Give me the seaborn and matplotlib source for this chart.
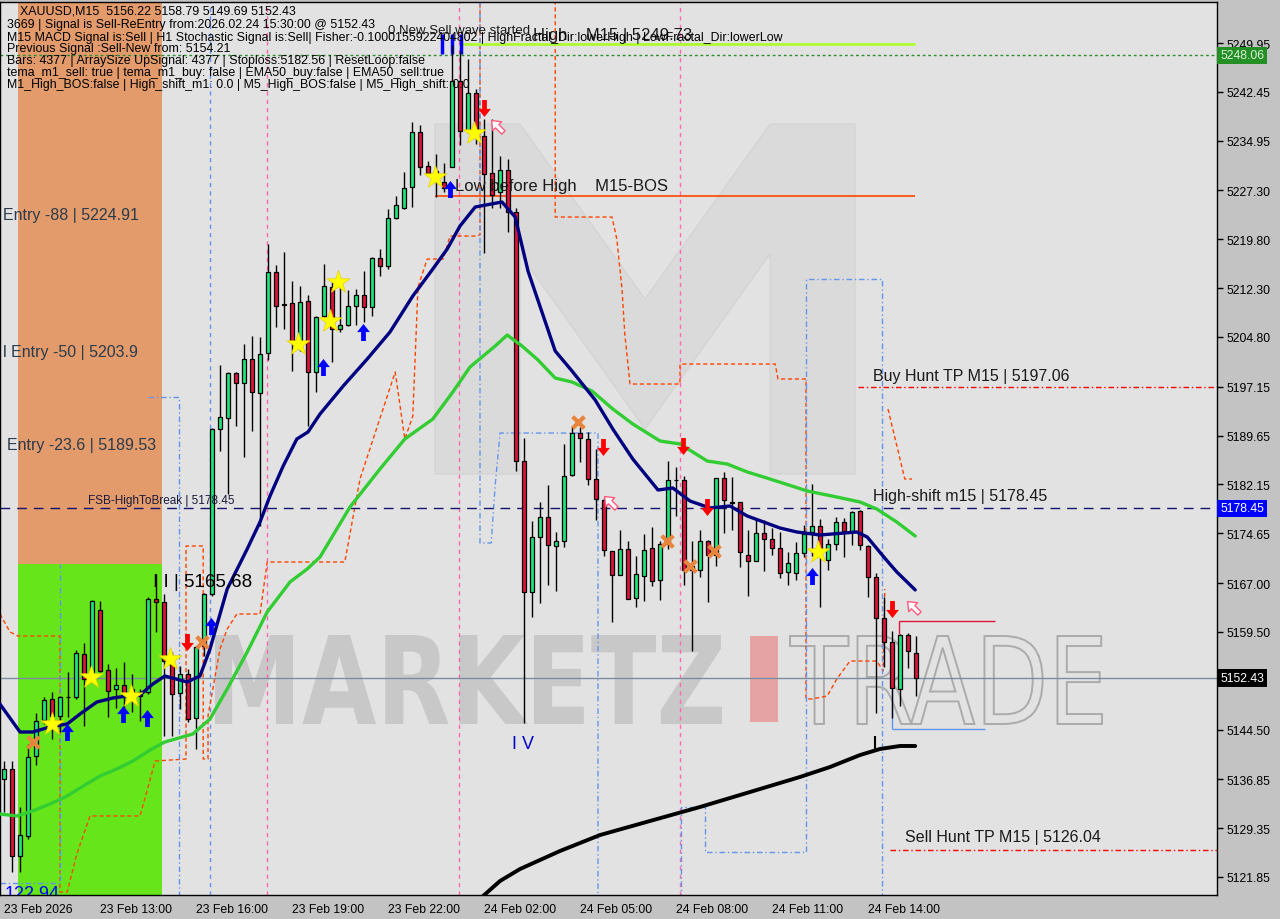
import numpy as np
import pandas as pd
import seaborn as sns
import matplotlib.pyplot as plt
from matplotlib.patches import Rectangle, Polygon, PathPatch
from matplotlib.textpath import TextPath
from matplotlib.font_manager import FontProperties
from matplotlib.transforms import Affine2D, blended_transform_factory
from matplotlib.path import Path

# Bougies XAUUSD M15
opens = [5136.90, 5138.44, 5125.07, 5128.15, 5140.43, 5145.96, 5149.19, 5146.58, 5149.50, 5149.50,
         5156.10, 5153.33, 5162.86, 5153.64, 5150.73, 5151.34, 5150.73, 5149.65, 5150.26, 5164.55,
         5164.09, 5154.87, 5150.11, 5153.03, 5146.27, 5157.33, 5165.32, 5190.66, 5192.35, 5199.26,
         5197.73, 5201.41, 5196.19, 5202.33, 5214.77, 5209.86, 5210.01, 5204.02, 5210.32, 5199.42,
         5208.02, 5212.47, 5206.02, 5206.63, 5209.55, 5211.24, 5209.40, 5216.93, 5215.70, 5223.07,
         5224.61, 5227.83, 5236.28, 5231.06, 5230.29, 5228.60, 5230.90, 5244.11, 5236.59, 5242.27,
         5235.66, 5229.98, 5227.06, 5230.44, 5223.99, 5185.74, 5165.62, 5174.07, 5177.14, 5172.69,
         5173.46, 5183.59, 5190.04, 5189.12, 5182.98, 5179.75, 5171.92, 5168.24, 5172.23, 5164.70,
         5168.08, 5172.38, 5167.47, 5173.00, 5182.83, 5182.83, 5169.62, 5169.00, 5173.46, 5171.31,
         5183.13, 5179.45, 5179.45, 5171.31, 5170.39, 5174.69, 5173.77, 5172.38, 5168.69, 5168.54,
         5171.61, 5174.84, 5175.76, 5170.54, 5173.00, 5176.37, 5174.99, 5178.06, 5172.69, 5167.93,
         5161.63, 5157.94, 5150.73, 5159.02, 5156.22]
highs = [5139.66, 5139.66, 5132.60, 5142.28, 5147.04, 5149.50, 5150.26, 5149.65, 5153.33, 5156.72,
         5157.79, 5164.39, 5164.24, 5154.56, 5153.95, 5154.87, 5153.03, 5150.73, 5164.86, 5168.39,
         5165.32, 5156.41, 5154.26, 5153.79, 5157.33, 5165.47, 5190.81, 5200.49, 5199.42, 5199.42,
         5203.72, 5204.94, 5204.79, 5219.08, 5215.85, 5217.85, 5213.39, 5212.62, 5211.24, 5208.02,
         5216.00, 5213.24, 5213.70, 5212.01, 5212.17, 5214.93, 5217.08, 5218.31, 5224.45, 5226.45,
         5230.13, 5237.82, 5237.35, 5231.83, 5232.90, 5231.52, 5249.72, 5248.72, 5247.49, 5242.88,
         5238.28, 5238.28, 5232.59, 5232.13, 5224.61, 5189.28, 5176.53, 5179.45, 5182.06, 5174.84,
         5188.36, 5191.12, 5190.97, 5190.20, 5187.59, 5180.06, 5171.92, 5175.15, 5173.46, 5171.15,
         5174.53, 5175.61, 5173.46, 5185.74, 5184.82, 5183.44, 5173.46, 5175.15, 5173.61, 5183.13,
         5184.05, 5183.29, 5179.45, 5175.15, 5176.83, 5176.68, 5175.45, 5174.84, 5171.77, 5173.30,
         5175.91, 5182.21, 5176.83, 5173.77, 5177.14, 5176.99, 5178.06, 5178.22, 5172.84, 5168.54,
         5164.86, 5159.63, 5159.17, 5159.33, 5158.79]
lows = [5131.83, 5122.62, 5122.62, 5127.68, 5139.05, 5145.35, 5143.05, 5144.12, 5146.42, 5149.19,
        5145.04, 5152.87, 5153.33, 5146.42, 5147.80, 5147.19, 5147.19, 5145.81, 5149.96, 5159.48,
        5143.51, 5143.51, 5147.65, 5145.66, 5141.51, 5155.79, 5165.01, 5187.28, 5180.68, 5191.12,
        5186.36, 5190.35, 5175.76, 5201.26, 5206.33, 5206.02, 5199.57, 5202.64, 5191.12, 5196.34,
        5207.86, 5200.95, 5205.56, 5206.48, 5206.63, 5207.10, 5208.02, 5214.16, 5215.24, 5222.91,
        5224.45, 5224.76, 5229.67, 5229.52, 5226.30, 5227.06, 5230.83, 5234.28, 5236.12, 5234.44,
        5217.69, 5224.61, 5224.61, 5220.92, 5184.21, 5145.50, 5161.78, 5163.93, 5166.70, 5165.78,
        5172.53, 5183.44, 5185.59, 5182.06, 5176.68, 5171.15, 5161.02, 5168.24, 5164.55, 5163.32,
        5164.24, 5166.55, 5164.39, 5172.23, 5177.30, 5166.70, 5156.56, 5167.93, 5164.09, 5169.62,
        5174.69, 5175.15, 5169.46, 5165.01, 5170.39, 5168.85, 5171.31, 5167.77, 5166.70, 5167.47,
        5171.00, 5171.15, 5163.32, 5169.00, 5172.07, 5171.00, 5172.84, 5172.07, 5164.86, 5147.04,
        5154.10, 5146.27, 5148.11, 5153.95, 5149.69]
closes = [5138.44, 5125.07, 5128.30, 5140.28, 5145.81, 5149.04, 5146.58, 5149.50, 5149.42, 5156.25,
          5152.26, 5164.24, 5153.49, 5150.42, 5151.34, 5149.65, 5149.65, 5150.26, 5164.55, 5164.09,
          5155.02, 5149.96, 5153.03, 5146.12, 5157.17, 5165.32, 5190.66, 5192.50, 5199.26, 5197.73,
          5201.41, 5196.34, 5202.18, 5214.77, 5209.55, 5209.71, 5204.02, 5210.17, 5199.42, 5207.86,
          5212.62, 5206.02, 5206.63, 5209.55, 5211.24, 5209.40, 5216.93, 5215.70, 5223.07, 5225.07,
          5227.68, 5236.28, 5230.90, 5229.98, 5229.37, 5227.68, 5244.11, 5236.43, 5242.27, 5236.59,
          5229.83, 5226.60, 5230.44, 5223.99, 5185.74, 5165.62, 5174.07, 5177.14, 5172.84, 5173.46,
          5183.44, 5190.04, 5189.28, 5182.98, 5179.91, 5172.07, 5168.24, 5172.23, 5164.55, 5168.39,
          5172.07, 5167.32, 5173.00, 5182.83, 5182.75, 5169.00, 5169.00, 5173.46, 5171.31, 5183.13,
          5179.75, 5179.37, 5171.77, 5170.39, 5174.69, 5173.77, 5172.38, 5168.54, 5170.08, 5171.61,
          5174.53, 5175.76, 5171.92, 5173.00, 5176.37, 5174.99, 5177.91, 5172.84, 5167.93, 5161.63,
          5157.94, 5150.88, 5159.02, 5156.56, 5152.43]

time_pos = [0, 12, 24, 36, 48, 60, 72, 84, 96, 108]
time_labels = ["23 Feb 2026", "23 Feb 13:00", "23 Feb 16:00", "23 Feb 19:00", "23 Feb 22:00",
               "24 Feb 02:00", "24 Feb 05:00", "24 Feb 08:00", "24 Feb 11:00", "24 Feb 14:00"]
price_ticks = [5249.95, 5242.45, 5234.95, 5227.30, 5219.80, 5212.30, 5204.80, 5197.15, 5189.65,
               5182.15, 5174.65, 5167.00, 5159.50, 5144.50, 5136.85, 5129.35, 5121.85]

# Moyennes mobiles (points lus)
navy_idx = [-0.5, 2, 3.6, 5.75, 7.9, 9.5, 11.6, 13.6, 15.4, 17, 18.6, 20.1, 22.9, 24.5, 25.75,
            27.9, 30.4, 32, 33.25, 34.9, 36.6, 38, 39.5, 42.4, 45.4, 48.25, 51.1, 53.6, 55.4, 57,
            58.9, 62.25, 63.9, 65.5, 68.9, 71, 73.9, 76.1, 78.6, 81.75, 83.6, 85.75, 88.25, 90.75,
            92.9, 97, 99.1, 102, 106.6, 107.9, 110.4, 111.6, 113.9]
navy_val = [5148.40, 5144.12, 5144.12, 5144.89, 5145.35, 5146.88, 5148.72, 5149.34, 5149.65, 5149.80,
            5151.49, 5152.72, 5151.80, 5152.72, 5156.87, 5166.08, 5172.23, 5176.37, 5180.37, 5184.98,
            5189.12, 5190.20, 5192.96, 5197.26, 5201.41, 5205.56, 5211.09, 5215.23, 5218.31, 5221.84,
            5224.76, 5225.53, 5223.22, 5214.93, 5202.64, 5199.57, 5195.11, 5190.66, 5186.05, 5181.29,
            5181.60, 5179.60, 5178.53, 5178.83, 5177.30, 5175.45, 5174.84, 5174.38, 5174.84, 5174.07,
            5170.39, 5168.70, 5165.94]
green_idx = [-0.5, 1.6, 3.6, 5.75, 7.9, 9.9, 12, 14.1, 16.1, 18.25, 20.1, 23.6, 25.75, 27.9, 30.4,
             32.9, 35.75, 37.9, 39.5, 43.25, 47, 50.1, 53.6, 56.1, 58.25, 61.4, 62.9, 64.75, 66.75,
             68.9, 71, 73.5, 76.1, 78.6, 82, 84.5, 87.9, 90.4, 92.9, 95.75, 100.4, 104.1, 107, 109.1,
             111.6, 113.9]
green_val = [5131.52, 5131.22, 5131.99, 5133.06, 5134.29, 5135.82, 5137.36, 5138.44, 5139.66, 5141.35,
             5142.58, 5143.81, 5146.12, 5150.73, 5156.41, 5162.55, 5167.16, 5169.16, 5171.00, 5178.68,
             5184.52, 5189.12, 5192.19, 5196.34, 5200.18, 5203.41, 5205.10, 5203.41, 5201.26, 5198.49,
             5197.88, 5196.49, 5193.73, 5191.43, 5188.82, 5188.36, 5185.74, 5185.28, 5184.06, 5182.98,
             5181.14, 5180.21, 5179.45, 5178.37, 5176.37, 5174.22]
black_idx = [59.5, 62, 64.5, 69.5, 74.5, 80.75, 87, 93.25, 99.5, 103.25, 107, 109.5, 112, 113.9]
black_val = [5118.50, 5121.23, 5123.07, 5125.84, 5128.29, 5130.45, 5132.60, 5134.90, 5137.21,
             5138.74, 5140.58, 5141.51, 5141.97, 5141.97]

# Canaux en pointillés
orange1_idx = [-0.5, 0.75, 1.75, 7, 7, 7.9, 9.1, 10.75, 17, 18.9, 22.75, 22.75, 24.9, 24.9, 25.5,
               25.5, 27, 27.9, 29.1, 32, 32.9, 42.6, 44.5, 48.9, 50.1, 51.1, 51.75, 52.9, 54.9,
               55.75, 58.9, 59.5, 59.5]
orange1_val = [5162.24, 5159.48, 5158.86, 5158.86, 5119.54, 5119.54, 5125.38, 5131.22, 5131.22,
               5139.66, 5139.97, 5172.69, 5172.69, 5139.97, 5139.97, 5146.58, 5156.87, 5159.94,
               5162.24, 5162.24, 5170.23, 5170.23, 5182.98, 5199.42, 5189.12, 5192.66, 5212.47,
               5216.77, 5216.77, 5220.30, 5220.30, 5220.46, 5256.50]
orange2_idx = [68.9, 68.9, 76, 76.6, 77.25, 77.6, 78.25, 84.5, 84.5, 96.4, 96.75, 100.25, 100.25,
               101, 102.9, 104.1, 105.75, 109.1, 109.9, 110.1]
orange2_val = [5256.50, 5223.22, 5223.22, 5219.84, 5212.17, 5205.25, 5197.57, 5197.57, 5200.64,
               5200.64, 5198.34, 5198.34, 5149.19, 5149.19, 5149.65, 5152.26, 5155.02, 5155.02,
               5153.49, 5166.08]
orange3_idx = [110.5, 111.4, 112.6, 113.5]
orange3_val = [5193.73, 5189.12, 5182.98, 5182.98]
blue1_idx = [-0.5, 7, 7]
blue1_val = [5120.93, 5120.93, 5170.00]
blue2_idx = [18, 21.9, 21.9]
blue2_val = [5195.58, 5195.58, 5118.50]
blue3_idx = [59.5, 59.5, 60.9, 61.4, 62, 74.25, 74.25]
blue3_val = [5256.50, 5173.15, 5173.15, 5182.06, 5190.04, 5190.04, 5118.50]
blue4_idx = [84.6, 84.6, 87.6, 87.6, 100.25, 100.25, 109.75, 109.75]
blue4_val = [5118.50, 5132.60, 5132.60, 5125.69, 5125.69, 5213.70, 5213.70, 5118.50]
pink_vlines = [32.9, 56.9, 84.5]

# Signaux
star_idx = [6, 10.9, 15.9, 20.75, 36.75, 40.75, 41.75, 53.9, 58.75, 101.75]
star_val = [5145.35, 5152.57, 5149.65, 5155.33, 5203.72, 5207.25, 5213.24, 5229.37, 5236.12, 5171.77]
buy_idx = [7.9, 14.9, 17.9, 25.9, 39.9, 44.9, 55.75, 101]
buy_val = [5144.12, 5146.88, 5146.27, 5160.40, 5200.18, 5205.56, 5227.53, 5168.08]
sell_idx = [22.9, 60, 74.9, 84.9, 87.9, 111]
sell_val = [5157.94, 5239.97, 5187.89, 5188.05, 5178.68, 5163.01]
exit_idx = [61.6, 75.75, 113.6]
exit_val = [5237.20, 5179.45, 5163.32]
cross_idx = [3.6, 24.75, 71.75, 82.9, 85.75, 88.75]
cross_val = [5142.58, 5157.94, 5191.73, 5173.46, 5169.62, 5171.92]

# Niveaux
high_m15 = 5249.73
high_lvl = 5248.06
bos_lvl = 5226.45
fsb_lvl = 5178.45
bid = 5152.43
buy_tp = 5197.06
sell_tp = 5126.04
zone_split = 5169.93

W, H = 1280, 920
X0, X1 = -0.5, 151.625
Y0, Y1 = 5119.08, 5256.25

sns.set_theme(style="white")
plt.rcParams["font.family"] = ["Liberation Sans", "DejaVu Sans"]

fig = plt.figure(figsize=(W / 100, H / 100), dpi=100, facecolor="#C3C3C3")
ax = fig.add_axes([0, 1 - 896 / H, 1217 / W, 893 / H])
ax.set_facecolor("#E2E2E2")
ax.set_xlim(X0, X1)
ax.set_ylim(Y0, Y1)


def disp(x, y):
    # pixel de l'image -> coordonnées d'affichage
    return x, H - y


# filigrane
logo = [(435, 475), (435, 125), (520, 125), (645, 300), (770, 125), (855, 125), (855, 475),
        (770, 475), (770, 255), (645, 430), (520, 255), (520, 475)]
ax.add_artist(Polygon([disp(*p) for p in logo], closed=True, transform=Affine2D(),
                      fc="#D6D6D6", ec="#D0D0D0", alpha=0.65, zorder=0.4))


def word(txt, x0, x1, ytop, ybot, weight, **kw):
    tp = TextPath((0, 0), txt, size=100, prop=FontProperties(family="DejaVu Sans", weight=weight))
    e = tp.get_extents()
    tr = (Affine2D().translate(-e.x0, -e.y0)
          .scale((x1 - x0) / e.width, (ybot - ytop) / e.height)
          .translate(x0, H - ybot))
    ax.add_artist(PathPatch(tp, transform=tr, zorder=0.5, **kw))


word("MARKETZ", 215, 722, 636, 725, "bold", fc="#C2C2C2", ec="none", alpha=0.8)
word("TRADE", 790, 1102, 637, 725, "normal", fc="none", ec="#ABABAB", lw=1.4)
ax.add_artist(Rectangle(disp(750, 723), 28, 86, transform=Affine2D(), fc="#E6A3A3",
                        ec="none", zorder=0.5))

# zones entrée
ax.add_patch(Rectangle((1.75, zone_split), 18, Y1 - zone_split, fc="#E39B6B", ec="none", zorder=0.6))
ax.add_patch(Rectangle((1.75, Y0), 18, zone_split - Y0, fc="#66E61A", ec="none", zorder=0.6))

# lignes verticales
for xv in pink_vlines:
    ax.axvline(xv, color="#FF69B4", lw=1, ls=(0, (3, 3)), zorder=1)
ax.axvline(25.75, color="#6495ED", lw=1, ls=(0, (3, 3)), zorder=1)

for xs, ys in [(orange1_idx, orange1_val), (orange2_idx, orange2_val), (orange3_idx, orange3_val)]:
    ax.plot(xs, ys, color="#FF4500", lw=1, ls=(0, (3, 2)), zorder=1.2)
for xs, ys in [(blue1_idx, blue1_val), (blue2_idx, blue2_val), (blue3_idx, blue3_val),
               (blue4_idx, blue4_val)]:
    ax.plot(xs, ys, color="#6495ED", lw=1, ls=(0, (4, 2, 1, 2)), zorder=1.2)

# niveaux horizontaux
ax.axhline(high_lvl, color="#2E8B2E", lw=1, ls=(0, (2, 2)), zorder=1.3)
ax.axhline(fsb_lvl, color="#14146E", lw=1, ls=(0, (7, 5)), zorder=1.3)
ax.axhline(bid, color="#7C8CA0", lw=1, zorder=1.3)
ax.hlines(high_m15, 57, 113.9, color="#ADFF2F", lw=2, zorder=1.4)
ax.hlines(bos_lvl, 53.9, 113.9, color="#FF4500", lw=1.2, zorder=1.4)
ax.hlines(buy_tp, 106.75, X1, color="#FF0000", lw=1, ls=(0, (4, 2, 1, 2)), zorder=1.4)
ax.hlines(sell_tp, 110.75, X1, color="#FF0000", lw=1, ls=(0, (4, 2, 1, 2)), zorder=1.4)
ax.hlines(5161.17, 111.9, 123.9, color="#DC143C", lw=1, zorder=1.4)
ax.vlines(111.9, 5159.2, 5161.17, color="#DC143C", lw=1, zorder=1.4)
ax.hlines(5144.58, 111, 122.6, color="#6495ED", lw=1, zorder=1.4)
ax.vlines(111, 5144.58, 5157.93, color="#6495ED", lw=1, zorder=1.4)
ax.vlines([54.75, 56, 57.1], 5248.26, 5251.33, color="#0000FF", lw=2.5, zorder=1.5)
ax.vlines(108.9, 5141.2, 5143.5, color="black", lw=1.5, zorder=1.5)

# bougies
df = pd.DataFrame({"o": opens, "h": highs, "l": lows, "c": closes})
df["i"] = np.arange(len(df))
up = df["c"] >= df["o"]
ax.vlines(df["i"], df["l"], df["h"], color="black", lw=1, zorder=3)
ax.bar(df["i"], df["c"] - df["o"], bottom=df["o"], width=0.62,
       color=np.where(up, "#1EE67A", "#DC143C"), edgecolor="black", linewidth=0.9, zorder=3.1)

# moyennes mobiles
ma_navy = pd.DataFrame({"i": navy_idx, "p": navy_val})
ma_green = pd.DataFrame({"i": green_idx, "p": green_val})
ma_black = pd.DataFrame({"i": black_idx, "p": black_val})
sns.lineplot(data=ma_green, x="i", y="p", ax=ax, color="#32CD32", lw=2.4, sort=False, estimator=None, zorder=4)
sns.lineplot(data=ma_navy, x="i", y="p", ax=ax, color="#000080", lw=2.4, sort=False, estimator=None, zorder=4.1)
sns.lineplot(data=ma_black, x="i", y="p", ax=ax, color="black", lw=2.8, sort=False, estimator=None, zorder=4.1)

# signaux
arrow = Path([(0, 1), (0.75, 0.05), (0.28, 0.05), (0.28, -1), (-0.28, -1), (-0.28, 0.05),
              (-0.75, 0.05), (0, 1)], closed=True)
arrow_dn = Affine2D().scale(1, -1).transform_path(arrow)
arrow_ul = Affine2D().rotate_deg(45).transform_path(arrow)
ax.scatter(star_idx, star_val, marker="*", s=300, c="#FFFF00", edgecolors="#E8D000", linewidths=0.5, zorder=5)
ax.scatter(buy_idx, buy_val, marker=arrow, s=150, c="#0000FF", linewidths=0, zorder=5)
ax.scatter(sell_idx, sell_val, marker=arrow_dn, s=150, c="#FF0000", linewidths=0, zorder=5)
ax.scatter(exit_idx, exit_val, marker=arrow_ul, s=120, c="white", edgecolors="#FF5A7E", linewidths=1, zorder=5)
ax.scatter(cross_idx, cross_val, marker="x", s=70, c="#E8843C", linewidths=3, zorder=5)

# textes sur le graphique
lab = dict(color="#2B3B4B", fontsize=11.5, va="center", ha="left", zorder=6)
ax.text(-0.1, 5223.68, "Entry -88 | 5224.91", **lab)
ax.text(-0.1, 5202.49, "l Entry -50 | 5203.9", **lab)
ax.text(0.4, 5188.21, "Entry -23.6 | 5189.53", **lab)
ax.text(10.5, 5179.75, "FSB-HighToBreak | 5178.45", color="#1A1A3A", fontsize=8.5, va="center", zorder=6)
ax.text(18.6, 5167.31, "I I | 5165.68", color="black", fontsize=13.5, va="center", zorder=6)
ax.text(63.5, 5142.28, "I V", color="#0000CD", fontsize=13, va="center", zorder=6)
ax.text(48, 5251.95, "0 New Sell wave started", color="#1A1A1A", fontsize=9.5, va="center", zorder=6)
ax.text(66.1, 5251.33, "High    M15 | 5249.73", color="#1A1A1A", fontsize=12, va="center", zorder=6)
ax.text(56.4, 5228.14, "Low before High    M15-BOS", color="#1A1A1A", fontsize=12, va="center", zorder=6)
ax.text(108.6, 5198.95, "Buy Hunt TP M15 | 5197.06", color="#1A1A1A", fontsize=11.5, va="center", zorder=6)
ax.text(108.6, 5180.37, "High-shift m15 | 5178.45", color="#1A1A1A", fontsize=11.5, va="center", zorder=6)
ax.text(112.6, 5128.01, "Sell Hunt TP M15 | 5126.04", color="#1A1A1A", fontsize=11.5, va="center", zorder=6)
ax.text(0.1, 5119.3, "122.94", color="#0000FF", fontsize=13, va="center", zorder=6, clip_on=True)

info = [
    (20, 11, "XAUUSD,M15  5156.22 5158.79 5149.69 5152.43"),
    (7, 25, "3669 | Signal is Sell-ReEntry from:2026.02.24 15:30:00 @ 5152.43"),
    (7, 38, "M15 MACD Signal is:Sell | H1 Stochastic Signal is:Sell| Fisher:-0.1000155922404802 | "
            "HighFractal_Dir:lowerHigh | LowFractal_Dir:lowerLow"),
    (7, 49, "Previous Signal :Sell-New from: 5154.21"),
    (7, 61, "Bars: 4377 | ArraySize UpSignal: 4377 | Stoploss:5182.56 | ResetLoop:false"),
    (7, 73, "tema_m1_sell: true | tema_m1_buy: false | EMA50_buy:false | EMA50_sell:true"),
    (7, 85, "M1_High_BOS:false | High_shift_m1: 0.0 | M5_High_BOS:false | M5_High_shift: 0.0"),
]
for x, y, t in info:
    fig.text(x / W, 1 - y / H, t, fontsize=8.9, color="black", va="center", ha="left")

# axes
ax.yaxis.tick_right()
ax.set_yticks(price_ticks)
ax.set_yticklabels([f"{v:.2f}" for v in price_ticks])
ax.set_xticks(time_pos)
ax.set_xticklabels(time_labels, ha="left")
ax.tick_params(axis="y", length=4, width=1, pad=3, labelsize=8.8, colors="black")
ax.tick_params(axis="x", length=4, width=1, pad=2, labelsize=8.8, colors="black")
ax.tick_params(axis="both", direction="out")
ax.set_xlabel("")
ax.set_ylabel("")
for s in ax.spines.values():
    s.set_color("black")
    s.set_linewidth(1)

yb = blended_transform_factory(ax.transAxes, ax.transData)
for v, fc, tc in [(high_lvl, "#248F24", "#D8F0D8"), (fsb_lvl, "#0000FF", "white"), (bid, "black", "white")]:
    ax.text(1.0025, v, f"{v:.2f}", transform=yb, fontsize=8.8, color=tc, va="center", ha="left",
            bbox=dict(boxstyle="square,pad=0.22", fc=fc, ec="none"), zorder=7, clip_on=False)

fig.savefig("out.png", dpi=100, facecolor=fig.get_facecolor())
